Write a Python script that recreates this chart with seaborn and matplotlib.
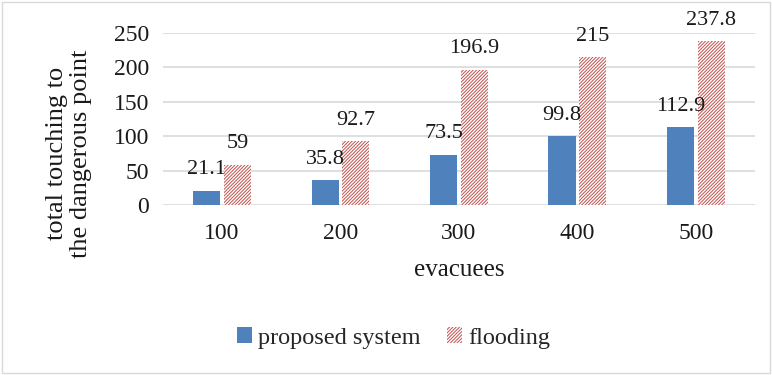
import pandas as pd
import matplotlib.pyplot as plt
import seaborn as sns
from matplotlib.patches import Rectangle

# data
evacuees = ["100", "200", "300", "400", "500"]
proposed = [21.1, 35.8, 73.5, 99.8, 112.9]
flooding = [59, 92.7, 196.9, 215, 237.8]
series = ["proposed system", "flooding"]

df = pd.DataFrame({
    "evacuees": evacuees * 2,
    "value": proposed + flooding,
    "series": [series[0]] * len(evacuees) + [series[1]] * len(evacuees),
})

sns.set_style("white")
plt.rcParams["font.family"] = ["Liberation Serif", "DejaVu Serif"]
plt.rcParams["hatch.linewidth"] = 0.7

blue = "#4F81BD"
red = "#C0504D"
txt = "#1a1a1a"

fig = plt.figure(figsize=(7.72, 3.75), dpi=100)
ax = fig.add_axes([0.211, 0.453, 0.767, 0.459])

sns.barplot(data=df, x="evacuees", y="value", hue="series",
            palette=[blue, red], width=0.52, gap=0.12,
            ax=ax, legend=False, saturation=1)

# hatch the flooding bars
for bar in ax.containers[1]:
    bar.set_facecolor("white")
    bar.set_edgecolor(red)
    bar.set_hatch("//////////")
    bar.set_linewidth(0)
for bar in ax.containers[0]:
    bar.set_linewidth(0)

for cont, vals in zip(ax.containers, [proposed, flooding]):
    ax.bar_label(cont, labels=[f"{v:g}" for v in vals], padding=8, fontsize=16,
                 color=txt)

ax.set_ylim(0, 250)
ax.set_yticks([0, 50, 100, 150, 200, 250])
ax.yaxis.grid(True, color="#D9D9D9", linewidth=1.2)
ax.set_axisbelow(True)
for s in ax.spines.values():
    s.set_visible(False)
ax.tick_params(axis="y", length=0, labelsize=17, colors=txt, pad=10)
ax.tick_params(axis="x", length=0, labelsize=17, colors=txt, pad=13)
ax.set_xlabel("evacuees", fontsize=18, color=txt, labelpad=11)
ax.set_ylabel("total touching to\nthe dangerous point", fontsize=19,
              color=txt, linespacing=1.12)
ax.yaxis.set_label_coords(-0.12, 0.3)

h1 = Rectangle((0, 0), 1, 1, facecolor=blue, linewidth=0)
h2 = Rectangle((0, 0), 1, 1, facecolor="white", edgecolor=red, hatch="//////////", linewidth=0)
fig.legend([h1, h2], series, loc="center", bbox_to_anchor=(0.51, 0.099),
           ncol=2, frameon=False, fontsize=17.5, handlelength=0.6,
           handleheight=0.6, handletextpad=0.25, columnspacing=1.1)

fig.patches.append(Rectangle((0.003, 0.005), 0.994, 0.99, transform=fig.transFigure,
                             fill=False, edgecolor="#D9D9D9", linewidth=1))

fig.savefig("out.png", dpi=100)
